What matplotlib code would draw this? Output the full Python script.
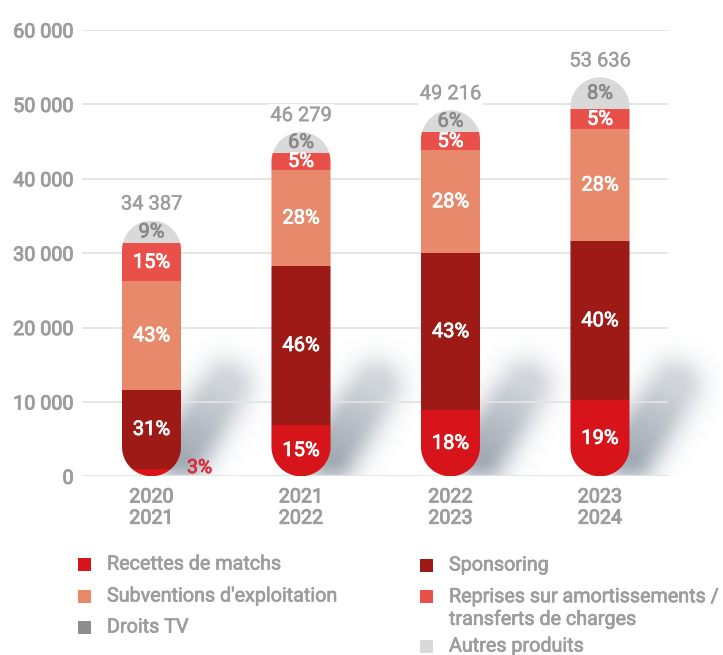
import numpy as np
import matplotlib
matplotlib.use("Agg")
import matplotlib.pyplot as plt
import matplotlib.patheffects as pe
from matplotlib.path import Path
from matplotlib.patches import Rectangle, PathPatch

plt.rcParams['font.family'] = ['Roboto', 'DejaVu Sans']

seasons = ['2020\n2021', '2021\n2022', '2022\n2023', '2023\n2024']
totals = [34387, 46279, 49216, 53636]

categories = ['Recettes de matchs', 'Sponsoring', "Subventions d'exploitation",
              'Reprises sur amortissements /\ntransferts de charges',
              'Droits TV', 'Autres produits']
colors = ['#d6141a', '#9e1a17', '#e8896b', '#e9504a', '#8e8e8e', '#d9d9d9']

# parts in % of each season's total
recettes = [3, 15, 18, 19]
sponsoring = [31, 46, 43, 40]
subventions = [43, 28, 28, 28]
reprises = [15, 5, 5, 5]
droits_tv = [0, 0, 0, 0]
autres = [9, 6, 6, 8]
shares = [recettes, sponsoring, subventions, reprises, droits_tv, autres]

W, H = 723, 655
fig = plt.figure(figsize=(W / 100, H / 100), dpi=100)
ax = fig.add_axes([82 / W, (H - 476.3) / H, 586 / W, 446.3 / H])

xlim = (-0.465, 3.455)
ylim = (0, 60000)
ax.set_xlim(*xlim)
ax.set_ylim(*ylim)
ppx = 586 / (xlim[1] - xlim[0])
ppy = 446.3 / (ylim[1] - ylim[0])

grey = '#9d9d9d'
x = np.arange(len(seasons))
width = 0.395


def medium(color, lw=0.55):
    return [pe.withStroke(linewidth=lw, foreground=color)]


# soft shadows cast behind each bar (image runs past the right edge of the axes)
ext_x = (xlim[0], xlim[1] + 0.45)
nx = int((ext_x[1] - ext_x[0]) * ppx)
ny = 446
GX, GY = np.meshgrid(np.arange(nx) + 0.5, np.arange(ny) + 0.5)
alpha = np.zeros_like(GX)
for cx in x:
    p0 = np.array([(cx + 0.2 - ext_x[0]) * ppx, 3000 * ppy])
    p1 = np.array([(cx + 0.5 - ext_x[0]) * ppx, 12000 * ppy])
    d = p1 - p0
    t = np.clip(((GX - p0[0]) * d[0] + (GY - p0[1]) * d[1]) / (d @ d), 0, 1)
    dist = np.hypot(GX - (p0[0] + t * d[0]), GY - (p0[1] + t * d[1]))
    a = 0.82 * np.exp(-np.maximum(dist - 7, 0) ** 2 / (2 * 16 ** 2)) * (1 - 0.5 * t)
    alpha = np.maximum(alpha, a)
img = np.zeros((ny, nx, 4))
img[..., 0], img[..., 1], img[..., 2] = 0.56, 0.60, 0.65
img[..., 3] = alpha
shadow = ax.imshow(img, origin='lower', extent=(ext_x[0], ext_x[1], ylim[0], ylim[1]),
                   aspect='auto', zorder=0.2, interpolation='bilinear')
shadow.set_clip_on(False)
ax.set_xlim(*xlim)
ax.set_ylim(*ylim)


def pill(cx, top):
    rx = width / 2
    ry = rx * ppx / ppy
    th = np.linspace(0, np.pi, 40)
    upper = np.column_stack([cx + rx * np.cos(th), top - ry + ry * np.sin(th)])
    lower = np.column_stack([cx - rx * np.cos(th), ry - ry * np.sin(th)])
    verts = np.vstack([upper, lower, upper[:1]])
    codes = [Path.MOVETO] + [Path.LINETO] * (len(verts) - 2) + [Path.CLOSEPOLY]
    return Path(verts, codes)


for i, cx in enumerate(x):
    tot = totals[i]
    s = sum(sh[i] for sh in shares)
    clip = PathPatch(pill(cx, tot), transform=ax.transData, facecolor='none', edgecolor='none')
    ax.add_patch(clip)
    bottom = 0
    for k, sh in enumerate(shares):
        val = tot * sh[i] / s
        if val == 0:
            continue
        b = ax.bar(cx, val, width, bottom=bottom, color=colors[k], zorder=3, linewidth=0)
        b[0].set_clip_path(clip)
        label = f'{sh[i]}%'
        if sh[i] < 4:
            ax.text(cx + width / 2 + 0.04, bottom + val / 2 + 600, label, color='#d6303a',
                    fontsize=14, ha='left', va='center', zorder=5,
                    path_effects=medium('#d6303a'))
        else:
            c = '#8a8a8a' if k == 5 else 'white'
            ax.text(cx, bottom + val / 2, label, color=c, fontsize=14.5,
                    ha='center', va='center', zorder=5, path_effects=medium(c))
        bottom += val
    ax.annotate(f'{tot:,}'.replace(',', ' '), (cx, tot), xytext=(0, 5),
                textcoords='offset points', ha='center', va='bottom', fontsize=14.5,
                color=grey, zorder=5, path_effects=medium(grey, 0.3),
                bbox=dict(facecolor='white', edgecolor='none', pad=1.5))

ax.set_yticks(np.arange(0, 60001, 10000))
ax.set_yticklabels([f'{v:,}'.replace(',', ' ') for v in range(0, 60001, 10000)])
ax.set_xticks(x)
ax.set_xticklabels(seasons, linespacing=1.15)
ax.tick_params(axis='both', length=0, labelsize=14.2, labelcolor=grey)
ax.tick_params(axis='y', pad=6)
ax.tick_params(axis='x', pad=8)
for lab in ax.get_xticklabels() + ax.get_yticklabels():
    lab.set_path_effects(medium(grey, 0.7))
ax.grid(axis='y', color='#e3e3e3', linewidth=1.3)
ax.set_axisbelow(True)
for sp in ax.spines.values():
    sp.set_visible(False)

# legend drawn by hand in two columns
legend_pos = [(78, 564), (420, 565), (78, 596), (420, 608), (78, 627), (420, 646)]
for k, (px, py) in enumerate(legend_pos):
    sq_y = 596 if '\n' in categories[k] else py
    fig.add_artist(Rectangle((px / W, (H - sq_y - 6.5) / H), 13 / W, 13 / H,
                             transform=fig.transFigure, color=colors[k], linewidth=0))
    fig.text((px + 29) / W, (H - py) / H, categories[k], fontsize=14.2, color=grey,
             ha='left', va='center', linespacing=1.2, path_effects=medium(grey, 0.5))

fig.savefig('out.png', dpi=100)
